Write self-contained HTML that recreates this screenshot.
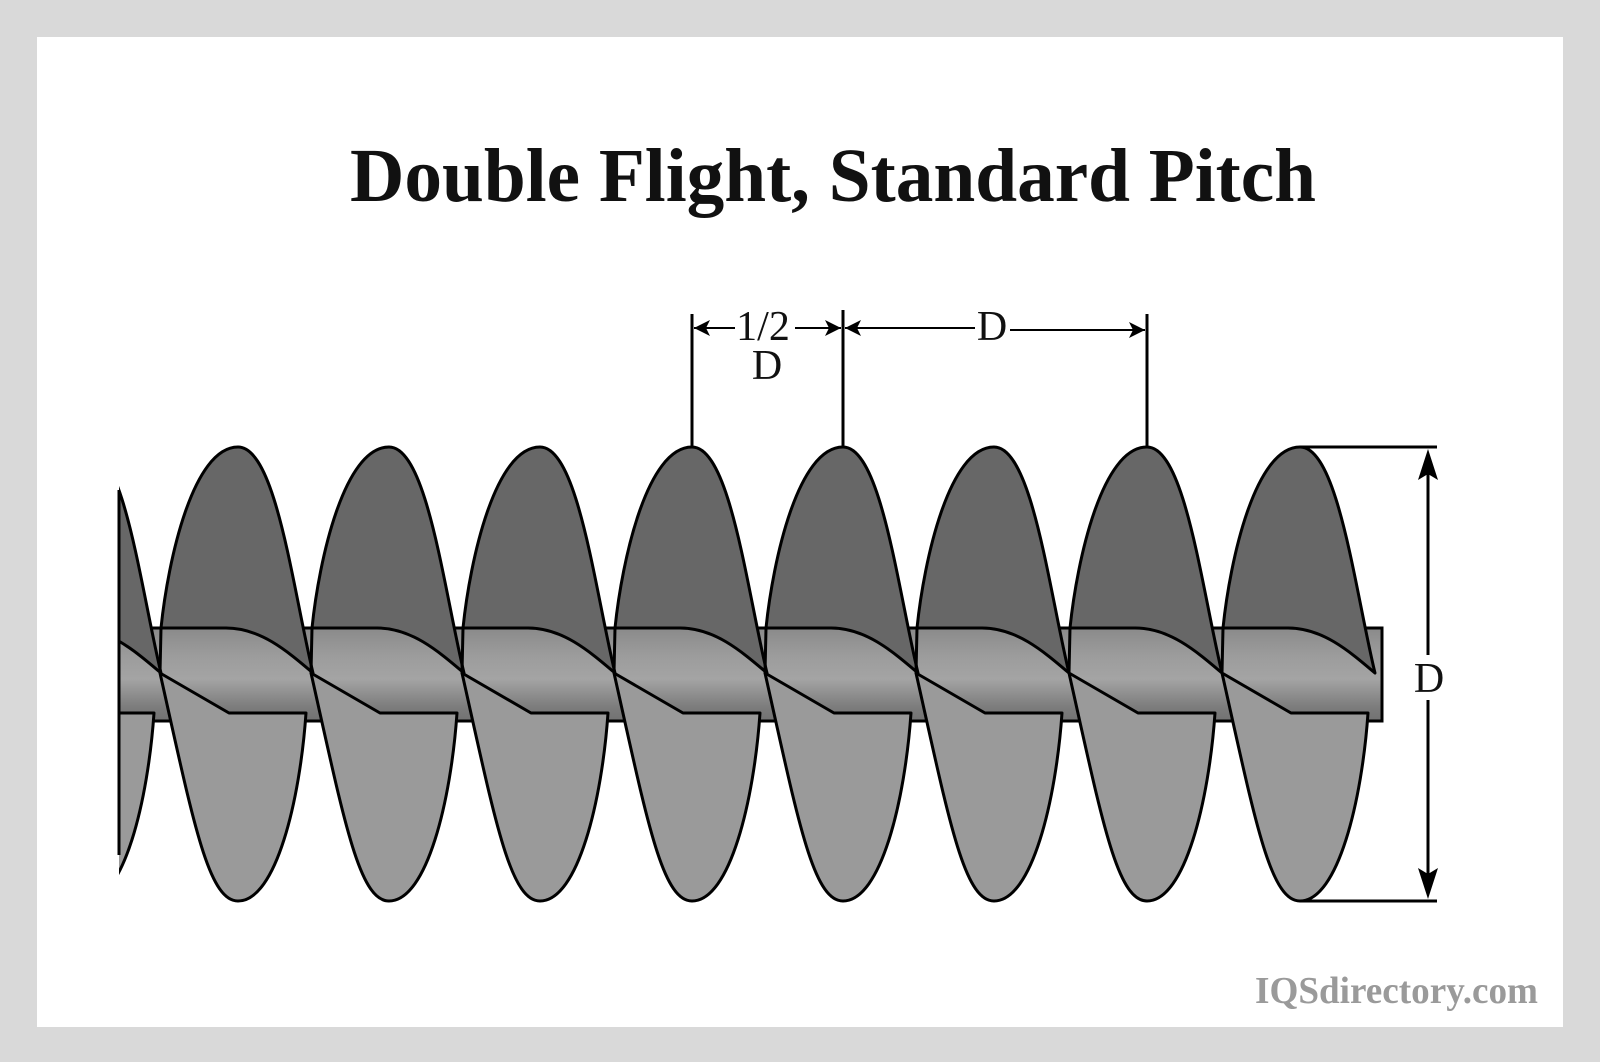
<!DOCTYPE html>
<html><head><meta charset="utf-8"><style>
html,body{margin:0;padding:0;background:#d9d9d9;}
svg{display:block;}
</style></head><body>
<svg width="1600" height="1062" viewBox="0 0 1600 1062" xmlns="http://www.w3.org/2000/svg">
<defs>
<linearGradient id="sg" x1="0" y1="0" x2="0" y2="1">
<stop offset="0" stop-color="#8a8a8a"/>
<stop offset="0.3" stop-color="#9c9c9c"/>
<stop offset="0.55" stop-color="#a4a4a4"/>
<stop offset="0.85" stop-color="#7c7c7c"/>
<stop offset="1" stop-color="#727272"/>
</linearGradient>
<g id="blade" stroke="#000" stroke-width="3" stroke-linejoin="round">
<path d="M0,447 C-45,447 -70,560 -77,628 L-12,628 C22,628 48,650 75,673 C55,590 38,447 0,447 Z" fill="#676767"/>
<path d="M-77,628 L-78,673" fill="none"/>
<path d="M-78,673 L-9,713 L68,713 C62,800 38,901 0,901 C-30,901 -45,820 -78,673 Z" fill="#9a9a9a"/>
</g>
<clipPath id="lc"><rect x="119" y="400" width="200" height="560"/></clipPath>
</defs>
<rect x="0" y="0" width="1600" height="1062" fill="#d9d9d9"/>
<rect x="37" y="37" width="1526" height="990" fill="#fff"/>
<text x="833" y="201" text-anchor="middle" font-family="Liberation Serif, serif" font-weight="bold" font-size="76" textLength="966" lengthAdjust="spacingAndGlyphs" fill="#111">Double Flight, Standard Pitch</text>

<rect x="119" y="628" width="1263" height="93" fill="url(#sg)" stroke="#000" stroke-width="3"/>
<g clip-path="url(#lc)"><use href="#blade" transform="translate(86,0)"/></g>
<line x1="119" y1="490" x2="119" y2="855" stroke="#000" stroke-width="3"/>
<use href="#blade" transform="translate(238,0)"/>
<use href="#blade" transform="translate(389,0)"/>
<use href="#blade" transform="translate(540,0)"/>
<use href="#blade" transform="translate(692,0)"/>
<use href="#blade" transform="translate(843,0)"/>
<use href="#blade" transform="translate(994,0)"/>
<use href="#blade" transform="translate(1147,0)"/>
<use href="#blade" transform="translate(1300,0)"/>

<g stroke="#000" stroke-width="3" fill="none">
<line x1="692" y1="314" x2="692" y2="447"/>
<line x1="843" y1="310" x2="843" y2="447"/>
<line x1="1147" y1="314" x2="1147" y2="447"/>
<line x1="694" y1="328" x2="735" y2="328" stroke-width="2"/>
<line x1="795" y1="328" x2="841" y2="328" stroke-width="2"/>
<line x1="845" y1="328" x2="975" y2="328" stroke-width="2"/>
<line x1="1010" y1="330" x2="1145" y2="330" stroke-width="2"/>
<line x1="1300" y1="447" x2="1437" y2="447"/>
<line x1="1300" y1="901" x2="1437" y2="901"/>
<line x1="1428" y1="460" x2="1428" y2="655"/>
<line x1="1428" y1="700" x2="1428" y2="888"/>
</g>
<g fill="#000">
<polygon points="694,328 710,320 706,328 710,336"/>
<polygon points="841,328 825,320 829,328 825,336"/>
<polygon points="845,328 861,320 857,328 861,336"/>
<polygon points="1145,330 1129,322 1133,330 1129,338"/>
<polygon points="1428,449 1418,480 1428,474 1438,480"/>
<polygon points="1428,899 1418,868 1428,874 1438,868"/>
</g>
<g font-family="Liberation Serif, serif" font-size="42" fill="#111" text-anchor="middle">
<text x="763" y="340">1/2</text>
<text x="767" y="379">D</text>
<text x="992" y="340">D</text>
<text x="1429" y="692">D</text>
</g>
<text x="1538" y="1003" text-anchor="end" font-family="Liberation Serif, serif" font-weight="bold" font-size="38" textLength="283" lengthAdjust="spacingAndGlyphs" fill="#9a9a9a">IQSdirectory.com</text>
</svg>
</body></html>
